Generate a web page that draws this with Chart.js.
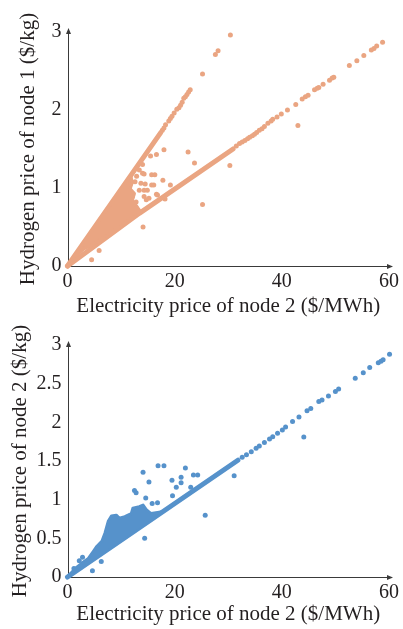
<!DOCTYPE html>
<html>
<head>
<meta charset="utf-8">
<script src="https://cdn.jsdelivr.net/npm/chart.js@4.4.0/dist/chart.umd.min.js"></script>
<style>
  html, body { margin: 0; padding: 0; background: #fff; }
  .panel { position: absolute; left: 0; width: 403px; }
  #panel1 { top: 0; height: 320px; }
  #panel2 { top: 320px; height: 309px; }
</style>
</head>
<body>
<div class="panel" id="panel1"><canvas id="chart1" width="403" height="320"></canvas></div>
<div class="panel" id="panel2"><canvas id="chart2" width="403" height="309"></canvas></div>
<script>
(function(){
  'use strict';

  // ---- node 1 hydrogen price vs node 2 electricity price ----
  // dense wedge of points near the origin (outline of the packed area)
  const n1Core = [[0,0],[11.8,1.16],[12.1,1.07],[11.7,0.99],[12.5,0.93],[12.1,0.84],[13.1,0.75],[13.7,0.69],
                  [6,0.33],[4.5,0.27],[3,0.215],[1.5,0.12]];
  // packed runs of points along the two branches
  const n1UpperRun = [[0,0],[17.4,1.71]];
  const n1LowerRun = [[0,0],[13.4,0.675],[30.9,1.5]];
  const n1UpperDots = [[17.7,1.74],[18.0,1.77],[18.3,1.81],[18.9,1.86],[19.2,1.89],[19.5,1.92],[19.9,1.96],
                       [20.4,2.01],[20.8,2.03],[21.1,2.06],[21.4,2.1],[21.7,2.15],[22.0,2.17],[22.3,2.2],
                       [22.6,2.23],[22.9,2.26],[25.2,2.46],[27.6,2.71],[28.1,2.76],[30.4,2.96]];
  const n1LowerDots = [[31.5,1.54],[32.1,1.57],[32.6,1.59],[33.1,1.61],[33.6,1.63],[34.0,1.65],[34.5,1.67],
                       [34.9,1.69],[35.3,1.71],[35.8,1.74],[36.3,1.76],[36.75,1.79],[37.4,1.83],
                       [38.0,1.86],[38.3,1.88],[39.1,1.91],[39.9,1.95],[41.05,2.0],[42.6,2.07],[43.8,2.14],
                       [44.4,2.17],[44.9,2.19],[46.1,2.26],[46.6,2.28],[46.9,2.29],[47.7,2.33],[48.9,2.38],
                       [49.4,2.41],[49.7,2.42],[52.6,2.57],[54.0,2.63],[55.3,2.7],[56.7,2.77],[57.2,2.79],
                       [57.7,2.82],[58.8,2.87]];
  const n1Scattered = [[30.3,1.29],[25.2,0.79],[43.0,1.8],[22.5,1.46],[23.7,1.32],[18.0,1.49],[16.6,1.43],
                       [15.5,1.41],[19.2,1.04],[17.8,1.1],[15.7,1.17],[16.3,1.17],[14.0,1.3],[13.4,1.23],
                       [12.9,1.15],[14.0,1.19],[14.3,1.18],[12.6,1.08],[13.7,1.06],[14.5,1.05],[15.7,1.04],
                       [16.1,1.04],[13.4,0.97],[14.3,0.97],[14.9,0.97],[12.1,0.89],[14.3,0.89],[15.2,0.87],
                       [16.6,0.92],[12.8,0.82],[14.7,0.85],[16.8,0.91],[18.2,0.86],[14.1,0.5],[4.5,0.08],[5.9,0.2]];

  // ---- node 2 hydrogen price vs node 2 electricity price ----
  const n2Cloud = [[0,0],[1.45,0.11],[2.7,0.18],[3.9,0.24],[4.8,0.33],[5.4,0.39],[6.4,0.46],[7.0,0.57],
                   [7.6,0.72],[8.2,0.79],[9.1,0.8],[9.7,0.76],[10.7,0.78],[11.9,0.82],[12.2,0.89],[13.4,0.91],
                   [14.1,0.93],[14.7,0.87],[15.6,0.82],[17.4,0.84],[17.4,0.82]];
  const n2Run = [[0,0],[31.8,1.51]];
  const n2LineDots = [[32.6,1.55],[33.4,1.58],[34.3,1.62],[35.2,1.665],[35.8,1.695],[36.75,1.74],[37.7,1.785],
                      [38.3,1.815],[39.2,1.86],[40.1,1.9],[40.7,1.94],[42.0,2.01],[43.2,2.07],[44.7,2.15],
                      [45.4,2.18],[46.9,2.27],[47.5,2.29],[48.7,2.34],[50.0,2.4],[50.6,2.43],[53.7,2.57],
                      [55.2,2.64],[56.4,2.71],[58.0,2.77],[58.5,2.79],[58.9,2.81],[60.1,2.88]];
  const n2Scattered = [[44.1,1.81],[31.1,1.31],[25.7,0.8],[14.1,1.355],[15.2,1.23],[16.9,1.44],[18.0,1.44],
                       [22.0,1.41],[21.2,1.29],[21.2,1.22],[19.5,1.25],[23.5,1.32],[24.3,1.32],[20.3,1.16],
                       [19.6,1.05],[23.0,1.16],[12.5,1.12],[12.8,1.09],[14.6,1.02],[15.8,0.95],[16.8,0.96],
                       [14.4,0.5],[6.3,0.2],[4.65,0.08],[2.2,0.21],[2.8,0.255],[1.2,0.11]];

  const xTicks = [0, 20, 40, 60];
  const n1YTicks = [0, 1, 2, 3];
  const n2YTicks = [0, 0.5, 1, 1.5, 2, 2.5, 3];

  const ORANGE = '#EAA582';
  const BLUE = '#5692CB';
  const TEXT = '#231F20';
  const AXIS = '#3A3A3A';
  const FAMILY = '"Liberation Serif", "Times New Roman", serif';

  function pts(list){ return list.map(p => ({ x: p[0], y: p[1] })); }

  function shapeSet(list, color){
    return { data: pts(list), showLine: true, fill: 'shape', backgroundColor: color, borderColor: color,
             borderWidth: 3, borderJoinStyle: 'round', pointRadius: 0, tension: 0, clip: false };
  }
  function runSet(list, color){
    return { data: pts(list), showLine: true, fill: false, borderColor: color, borderWidth: 5,
             borderCapStyle: 'round', borderJoinStyle: 'round', pointRadius: 0, tension: 0, clip: false };
  }
  function dotSet(list, color){
    return { data: pts(list), showLine: false, backgroundColor: color, borderWidth: 0,
             pointRadius: 2.5, clip: false };
  }

  // axis lines with arrow heads, drawn under the points
  const axisArrows = {
    id: 'axisArrows',
    beforeDatasetsDraw(chart){
      const { ctx, chartArea: a } = chart;
      const x0 = Math.round(a.left) + 0.5;
      const y0 = Math.round(a.bottom) + 0.5;
      ctx.save();
      ctx.strokeStyle = AXIS;
      ctx.fillStyle = AXIS;
      ctx.lineWidth = 1;
      ctx.beginPath();
      ctx.moveTo(x0, y0); ctx.lineTo(x0, a.top - 1);
      ctx.moveTo(x0, y0); ctx.lineTo(a.right + 1, y0);
      ctx.stroke();
      ctx.beginPath();
      ctx.moveTo(x0, a.top - 4); ctx.lineTo(x0 - 2.5, a.top + 2); ctx.lineTo(x0 + 2.5, a.top + 2);
      ctx.closePath(); ctx.fill();
      ctx.beginPath();
      ctx.moveTo(a.right + 4, y0); ctx.lineTo(a.right - 2, y0 - 2.5); ctx.lineTo(a.right - 2, y0 + 2.5);
      ctx.closePath(); ctx.fill();
      ctx.restore();
    }
  };

  function makeChart(id, cfg){
    const el = document.getElementById(id);
    if (!el || typeof Chart === 'undefined') return;
    new Chart(el, {
      type: 'scatter',
      data: { datasets: cfg.datasets },
      plugins: [axisArrows],
      options: {
        responsive: false,
        animation: false,
        events: [],
        layout: { padding: { left: 0, right: 10, top: cfg.top, bottom: 0 } },
        plugins: { legend: { display: false }, tooltip: { enabled: false } },
        scales: {
          x: {
            type: 'linear', min: 0, max: 60,
            afterFit: s => { s.height = cfg.xHeight; },
            afterBuildTicks: s => { s.ticks = xTicks.map(v => ({ value: v })); },
            grid: { display: false, drawTicks: false },
            border: { display: false },
            ticks: { color: TEXT, padding: 4, maxRotation: 0, font: { family: FAMILY, size: 20 },
                     callback: v => String(v) },
            title: { display: true, text: 'Electricity price of node 2 ($/MWh)', color: TEXT,
                     font: { family: FAMILY, size: 21 }, padding: { top: 0, bottom: cfg.xTitlePad } }
          },
          y: {
            type: 'linear', min: 0, max: 3,
            afterFit: s => { s.width = 67.5; },
            afterBuildTicks: s => { s.ticks = cfg.yTicks.map(v => ({ value: v })); },
            grid: { display: false, drawTicks: false },
            border: { display: false },
            ticks: { color: TEXT, padding: 6, font: { family: FAMILY, size: 20 },
                     callback: v => String(v) },
            title: { display: true, text: cfg.yTitle, color: TEXT,
                     font: { family: FAMILY, size: 21 }, padding: { top: cfg.yTitlePad, bottom: 0 } }
          }
        }
      }
    });
  }

  makeChart('chart1', {
    top: 32, xHeight: 54, xTitlePad: 1, yTitlePad: 16, yTicks: n1YTicks,
    yTitle: 'Hydrogen price of node 1 ($/kg)',
    datasets: [
      shapeSet(n1Core, ORANGE),
      runSet(n1UpperRun, ORANGE),
      runSet(n1LowerRun, ORANGE),
      dotSet(n1UpperDots, ORANGE),
      dotSet(n1LowerDots, ORANGE),
      dotSet(n1Scattered, ORANGE)
    ]
  });

  makeChart('chart2', {
    top: 25, xHeight: 52, xTitlePad: 2.4, yTitlePad: 7.5, yTicks: n2YTicks,
    yTitle: 'Hydrogen price of node 2 ($/kg)',
    datasets: [
      shapeSet(n2Cloud, BLUE),
      runSet(n2Run, BLUE),
      dotSet(n2LineDots, BLUE),
      dotSet(n2Scattered, BLUE)
    ]
  });
})();
</script>
</body>
</html>
